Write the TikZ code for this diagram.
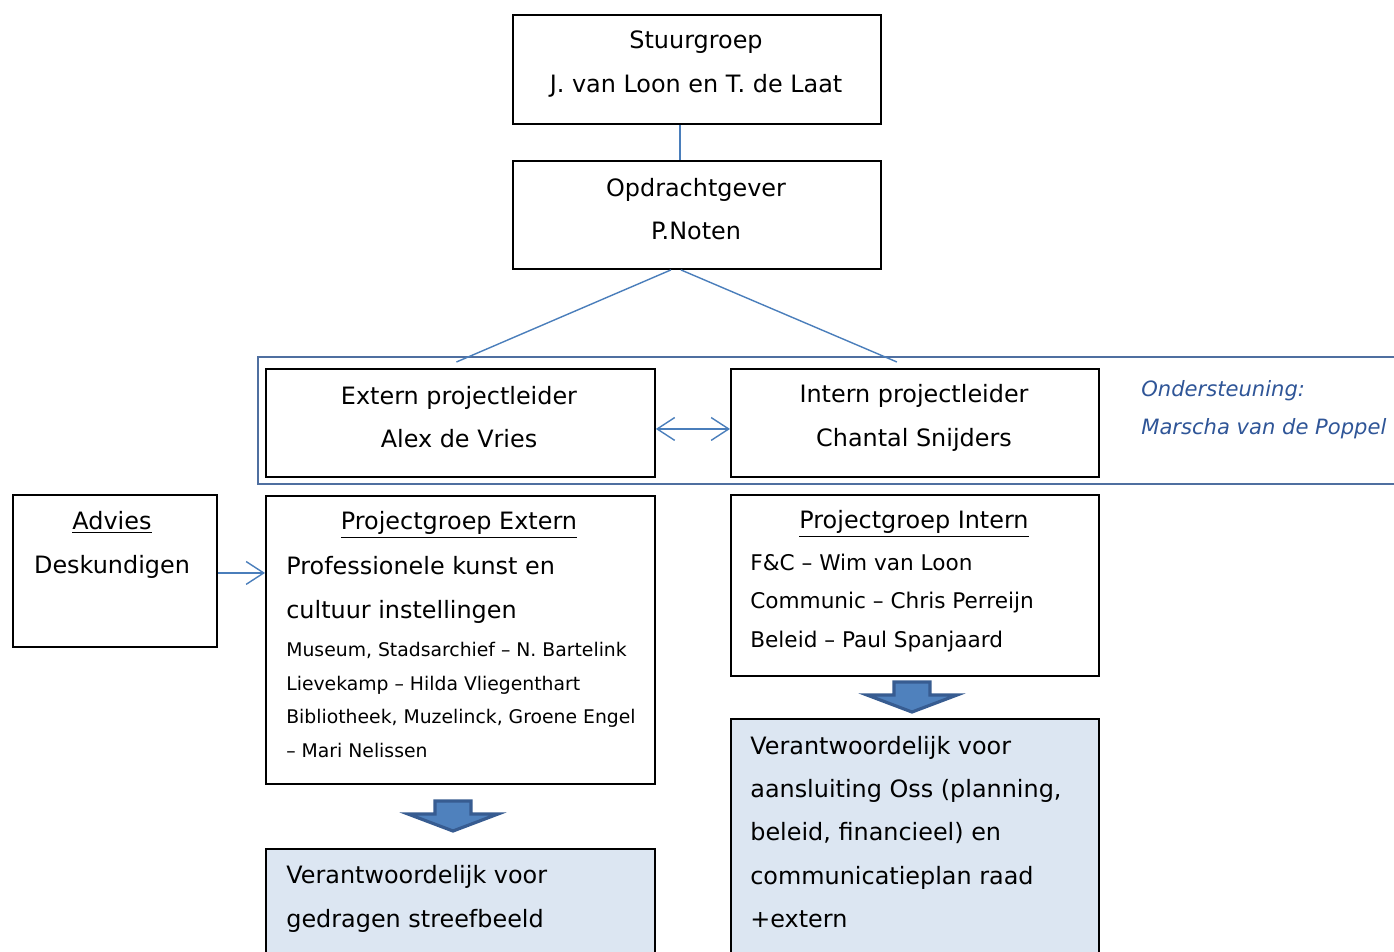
\documentclass[tikz,border=0pt]{standalone}
\usepackage{fontspec}
\setmainfont{DejaVu Sans}
\usetikzlibrary{positioning,arrows.meta}

\definecolor{linkblue}{HTML}{4A7EBB}
\definecolor{frameblue}{HTML}{4F6FA0}
\definecolor{noteblue}{HTML}{2F5597}
\definecolor{taskfill}{HTML}{DCE6F2}
\definecolor{arrowfill}{HTML}{4F81BD}
\definecolor{arrowedge}{HTML}{375C91}

\newcommand{\bigtxt}{\fontsize{13.6}{24.7}\selectfont}
\newcommand{\midtxt}{\fontsize{12.3}{22.1}\selectfont}
\newcommand{\smalltxt}{\fontsize{10.7}{19.3}\selectfont}

\tikzset{
    box/.style={draw, line width=1.1pt, anchor=north west, inner sep=0pt},
    task/.style={box, fill=taskfill},
    txt/.style={inner sep=0pt, font=\bigtxt, align=center},
    ltxt/.style={inner sep=0pt, font=\bigtxt, align=left, anchor=west},
    link/.style={linkblue, line width=0.8pt},
    barb/.tip={Straight Barb[length=10pt, width=13pt]},
    downarrow/.pic={
        \draw[line width=1.8pt, draw=arrowedge, fill=arrowfill, line join=miter]
            (-18,1) -- (18,1) -- (18,14) -- (45,14) -- (0,31)
            -- (-45,14) -- (-18,14) -- cycle;
    }
}

\begin{document}
\begin{tikzpicture}[x=0.02cm, y=-0.02cm]
    \clip (0,0) rectangle (1394,951);

    % top of the organisation
    \node[box, minimum width=7.36cm, minimum height=2.18cm] (stuur) at (512,14) {};
    \node[txt] (stuurT) at (696,64) {Stuurgroep\\J. van Loon en T. de Laat};
    \node[box, minimum width=7.36cm, minimum height=2.16cm] (opdr) at (512,160) {};
    \node[txt] (opdrT) at (696,209) {Opdrachtgever\\P.Noten};

    % project leaders
    \draw[frameblue, line width=0.6pt] (1420,357) rectangle (258,484);
    \node[box, minimum width=7.78cm, minimum height=2.16cm] (extPL) at (265,368) {};
    \node[txt] (extPLT) at (459,417) {Extern projectleider\\Alex de Vries};
    \node[box, minimum width=7.36cm, minimum height=2.16cm] (intPL) at (730,368) {};
    \node[txt] (intPLT) at (914,418) {Intern projectleider\\Chantal Snijders};
    \node[ltxt, font=\fontsize{12}{21.5}\selectfont\itshape, text=noteblue] (steun) at (1141,410)
        {Ondersteuning:\\Marscha van de Poppel};

    % project groups
    \node[box, minimum width=4.08cm, minimum height=3.04cm] (advies) at (12,494) {};
    \node[txt] (adviesT) at (112,545) {\underline{Advies}\\Deskundigen};
    \node[box, minimum width=7.78cm, minimum height=5.76cm] (pgExt) at (265,495) {};
    \node[txt] (pgExtT) at (459,525) {\underline{Projectgroep Extern}};
    \node[ltxt] (pgExtA) at (286,590) {Professionele kunst en\\cultuur instellingen};
    \node[ltxt, font=\smalltxt] (pgExtB) at (286,700) {Museum, Stadsarchief -- N. Bartelink\\
        Lievekamp -- Hilda Vliegenthart\\Bibliotheek, Muzelinck, Groene Engel\\-- Mari Nelissen};
    \node[box, minimum width=7.36cm, minimum height=3.62cm] (pgInt) at (730,494) {};
    \node[txt] (pgIntT) at (914,524) {\underline{Projectgroep Intern}};
    \node[ltxt, font=\midtxt] (pgIntA) at (750,603) {F\&C -- Wim van Loon\\
        Communic -- Chris Perreijn\\Beleid -- Paul Spanjaard};

    % responsibilities
    \node[task, minimum width=7.78cm, minimum height=2.6cm] (taskExt) at (265,848) {};
    \node[ltxt] (taskExtT) at (286,899) {Verantwoordelijk voor\\gedragen streefbeeld};
    \node[task, minimum width=7.36cm, minimum height=5.2cm] (taskInt) at (730,718) {};
    \node[ltxt] (taskIntT) at (750,832) {Verantwoordelijk voor\\aansluiting Oss (planning,\\
        beleid, financieel) en\\communicatieplan raad\\+extern};

    \pic at (453,800) {downarrow};
    \pic at (912,681) {downarrow};

    % connectors
    \draw[link] ([xshift=-0.34cm]stuur.south) -- ([xshift=-0.34cm]opdr.north);
    \draw[link] ([xshift=-0.52cm]opdr.south) -- ([xshift=-0.08cm, yshift=0.12cm]extPL.north);
    \draw[link] ([xshift=-0.32cm]opdr.south) -- ([xshift=-0.36cm, yshift=0.12cm]intPL.north);
    \draw[link, barb-barb]
        ([yshift=-0.12cm]extPL.east) -- ([yshift=-0.12cm]intPL.west);
    \draw[link, -barb]
        ([yshift=-0.04cm]advies.east) -- ([yshift=-0.04cm]advies.east -| pgExt.west);
\end{tikzpicture}
\end{document}
